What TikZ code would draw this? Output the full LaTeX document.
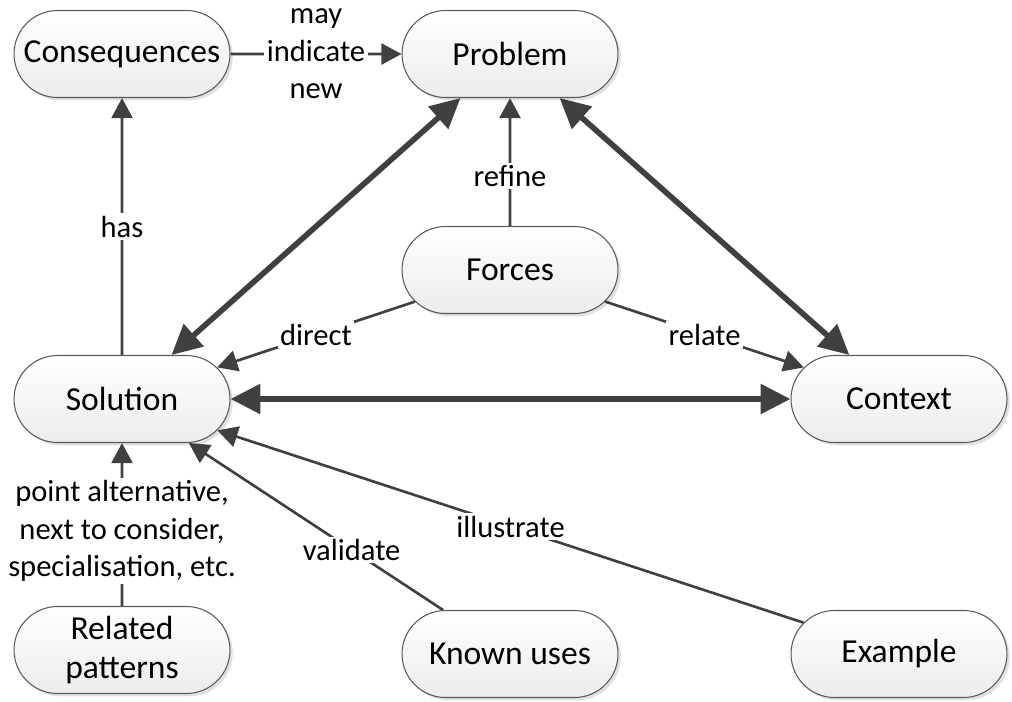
\documentclass[tikz,border=0pt]{standalone}
\usepackage{fontspec}
\setmainfont{Carlito}
\usetikzlibrary{shapes.misc,arrows.meta,shadows}
\definecolor{edgegray}{HTML}{404040}
\definecolor{rimgray}{HTML}{5A5A5A}
\begin{document}
\begin{tikzpicture}[x=0.02cm,y=-0.02cm,
  concept/.style={font=\fontsize{19.1}{22.6}\selectfont, rounded rectangle,
    draw=rimgray, line width=0.6pt,
    top color=white, bottom color=gray!15,
    minimum width=4.32cm, minimum height=1.74cm, align=center, inner sep=0pt,
    drop shadow={shadow xshift=1.6pt, shadow yshift=-1.6pt, fill=black, opacity=0.12}},
  link/.style={draw=edgegray, line width=1.5pt, -{Triangle[length=11.5pt,width=12pt]}},
  strong/.style={draw=edgegray, line width=3.2pt,
    {Triangle[length=17pt,width=16.5pt]}-{Triangle[length=17pt,width=16.5pt]}},
  tag/.style={font=\fontsize{17.4}{21.4}\selectfont, fill=white, inner sep=1.5pt,
    align=center, text=black}
]
\useasboundingbox (0,0) rectangle (1012,701);

% concept nodes
\node[concept] (conseq)   at (122,54)  {Consequences};
\node[concept] (problem)  at (510,54)  {Problem};
\node[concept] (forces)   at (510,270) {Forces};
\node[concept] (solution) at (122,399) {Solution};
\node[concept] (context)  at (899,399) {Context};
\node[concept] (related)  at (122,650) {Related\\patterns};
\node[concept] (known)    at (510,654) {Known uses};
\node[concept] (example)  at (899,654) {Example};

% thin labelled relations
\draw[link] (conseq) -- node[tag] {may\\indicate\\new} (problem);
\draw[link] (solution) -- node[tag] {has} (conseq);
\draw[link] (forces) -- node[tag,pos=0.39] {refine} (problem);
\draw[link] (forces) -- node[tag] {direct} (solution);
\draw[link] (forces) -- node[tag] {relate} (context);
\draw[link] (related) -- node[tag,pos=0.46] {point alternative,\\next to consider,\\specialisation, etc.} (solution);
\draw[link] (known) -- node[tag,pos=0.36] {validate} (solution);
\draw[link] (example) -- node[tag] {illustrate} (solution);

% core triangle
\draw[strong] (problem) -- (solution);
\draw[strong] (problem) -- (context);
\draw[strong] (solution) -- (context);
\end{tikzpicture}
\end{document}
